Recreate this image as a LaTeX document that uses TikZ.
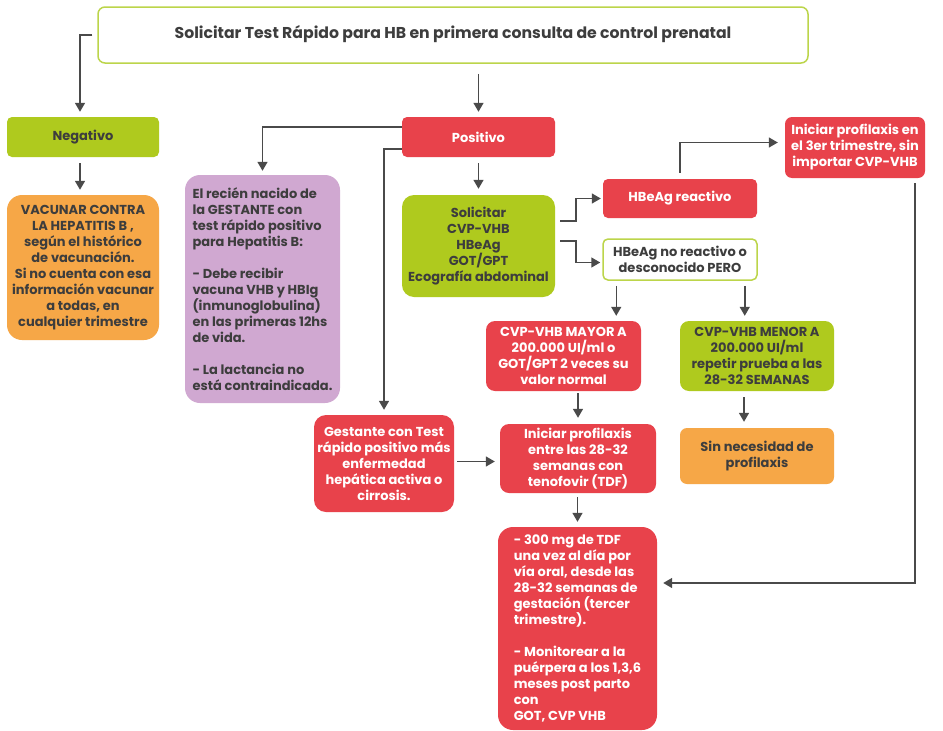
\documentclass[tikz,border=0pt]{standalone}
\usepackage{fontspec}
\setmainfont{Poppins}
\usetikzlibrary{arrows.meta}

\definecolor{hbred}{HTML}{E8424B}
\definecolor{hbgreen}{HTML}{AFCA1E}
\definecolor{hborange}{HTML}{F6A747}
\definecolor{hbpurple}{HTML}{D0A8D1}
\definecolor{hbtext}{HTML}{3D3D3D}
\definecolor{hbline}{HTML}{4A4A4A}
\definecolor{hbborder}{HTML}{BCD54A}

\begin{document}
\begin{tikzpicture}[x=1pt,y=-1pt,
  base/.style={inner sep=0pt, align=center,
    font=\bfseries\fontsize{13}{16}\selectfont},
  redbox/.style={base, fill=hbred, text=white},
  greenbox/.style={base, fill=hbgreen, text=hbtext},
  orangebox/.style={base, fill=hborange, text=hbtext},
  purplebox/.style={base, fill=hbpurple, text=hbtext},
  outlinebox/.style={base, fill=white, draw=hbborder, line width=1.5pt, text=hbtext},
  arr/.style={draw=hbline, line width=1.5pt, -{Triangle[width=10pt,length=9pt]}},
]
\fill[white] (0,0) rectangle (943,731);
\useasboundingbox (0,0) rectangle (943,731);

% first request
\node[outlinebox, minimum width=710pt, minimum height=56pt, rounded corners=7pt,
  font=\bfseries\fontsize{15.7}{16}\selectfont] (top) at (453,35)
  {\raisebox{6pt}{Solicitar Test Rápido para HB en primera consulta de control prenatal}};

% negative branch
\node[greenbox, minimum width=152pt, minimum height=40pt, rounded corners=5pt] (neg) at (83,137) {Negativo};
\node[orangebox, minimum width=152pt, minimum height=145pt, rounded corners=15pt] (vac) at (83,267.5)
  {VACUNAR CONTRA\\LA HEPATITIS B ,\\según el histórico\\de vacunación.\\Si no cuenta con esa\\información vacunar\\a todas, en\\cualquier trimestre};

% positive branch
\node[redbox, minimum width=153pt, minimum height=40pt, rounded corners=5pt] (pos) at (478.5,137) {Positivo};
\node[purplebox, align=left, minimum width=155pt, minimum height=228pt, rounded corners=15pt] (rn) at (262.5,289)
  {El recién nacido de\\la GESTANTE con\\test rápido positivo\\para Hepatitis B:\\[16pt]- Debe recibir\\vacuna VHB y HBIg\\(inmunoglobulina)\\en las primeras 12hs\\de vida.\\[16pt]- La lactancia no\\está contraindicada.};
\node[greenbox, minimum width=153pt, minimum height=102pt, rounded corners=12pt] (sol) at (478.5,246)
  {Solicitar\\CVP-VHB\\HBeAg\\GOT/GPT\\Ecografía abdominal};
\node[redbox, minimum width=154pt, minimum height=39pt, rounded corners=5pt] (re) at (680,198.5) {HBeAg reactivo};
\node[outlinebox, minimum width=154pt, minimum height=41pt, rounded corners=5pt] (nr) at (680,259.5)
  {HBeAg no reactivo o\\desconocido PERO};
\node[redbox, minimum width=140pt, minimum height=61pt, rounded corners=7pt] (ini3) at (855,147.5)
  {Iniciar profilaxis en\\el 3er trimestre, sin\\importar CVP-VHB};
\node[redbox, minimum width=155pt, minimum height=70pt, rounded corners=9pt] (may) at (563.5,356)
  {CVP-VHB MAYOR A\\200.000 UI/ml o\\GOT/GPT 2 veces su\\valor normal};
\node[greenbox, minimum width=154pt, minimum height=70pt, rounded corners=9pt] (men) at (757,356)
  {CVP-VHB MENOR A\\200.000 UI/ml\\repetir prueba a las\\28-32 SEMANAS};
\node[redbox, minimum width=140pt, minimum height=97pt, rounded corners=12pt] (ges) at (384,463.5)
  {Gestante con Test\\rápido positivo más\\enfermedad\\hepática activa o\\cirrosis.};
\node[redbox, minimum width=156pt, minimum height=69pt, rounded corners=9pt] (ent) at (578,458.5)
  {Iniciar profilaxis\\entre las 28-32\\semanas con\\tenofovir (TDF)};
\node[orangebox, minimum width=154pt, minimum height=56pt, rounded corners=7pt] (sin) at (757,456)
  {Sin necesidad de\\profilaxis};
\node[redbox, align=left, minimum width=159pt, minimum height=203pt, rounded corners=15pt] (tdf) at (577.5,628.5)
  {- 300 mg de TDF\\una vez al día por\\vía oral, desde las\\28-32 semanas de\\gestación (tercer\\trimestre).\\[16pt]- Monitorear a la\\puérpera a los 1,3,6\\meses post parto\\con\\GOT, CVP VHB};

% connectors
\draw[arr, shorten >=5pt] ([xshift=-5pt]top.west) -| ([xshift=-3pt]neg.north);
\draw[arr, shorten <=10pt, shorten >=5pt] (top.south -| pos.north) -- (pos.north);
\draw[arr, shorten <=6pt, shorten >=5pt] ([xshift=-3pt]neg.south) -- ([xshift=-3pt]vac.north);
\draw[arr, shorten >=4pt] ([yshift=-10pt]pos.north west) -| (rn.north);
\draw[arr, shorten >=5pt] ([yshift=8pt]pos.south west) -| (ges.north);
\draw[arr, shorten <=6pt, shorten >=6pt] (pos.south) -- (sol.north);
\draw[arr, shorten >=2pt] ([xshift=5pt,yshift=25pt]sol.east) -- ++(16,0) |- (re.west);
\draw[arr, shorten >=2pt] ([xshift=5pt,yshift=5pt]sol.east) -- ++(16,0) |- ([yshift=-3pt]nr.west);
\draw[arr, shorten >=7pt] ([yshift=6pt]re.north) |- ([yshift=5pt]ini3.west);
\draw[arr, shorten >=6pt] ([xshift=-10pt,yshift=-5pt]ini3.south east) |- ([yshift=45.5pt]tdf.east);
\coordinate (nrL) at ([xshift=14pt]nr.south west);
\coordinate (nrR) at ([xshift=-13pt]nr.south east);
\draw[arr, shorten <=5pt, shorten >=5pt] (nrL) -- (nrL |- may.north);
\draw[arr, shorten <=5pt, shorten >=5pt] (nrR) -- (nrR |- men.north);
\draw[arr, shorten <=2pt, shorten >=6pt] (ent.north |- may.south) -- (ent.north);
\draw[arr, shorten <=3pt, shorten >=5pt] ([yshift=2pt]ges.east) -- ([yshift=2pt]ges.east -| ent.west);
\draw[arr, shorten <=4pt, shorten >=5pt] (ent.south -| tdf.north) -- (tdf.north);
\coordinate (menL) at ([xshift=-13pt]men.south);
\draw[arr, shorten <=6pt, shorten >=6pt] (menL) -- (menL |- sin.north);
\end{tikzpicture}
\end{document}
